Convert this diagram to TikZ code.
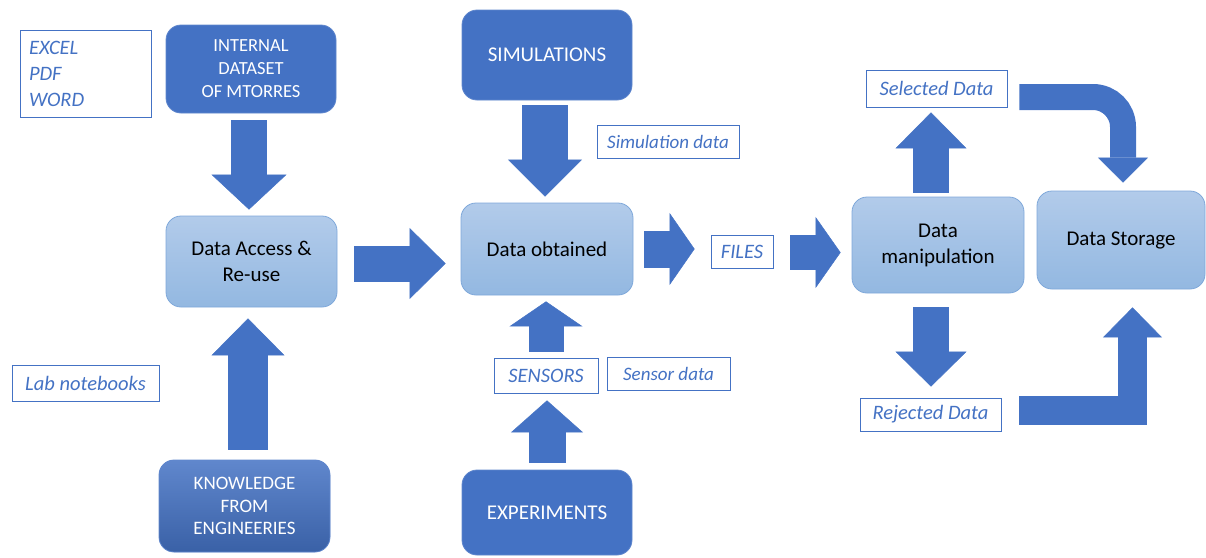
\documentclass[tikz,border=0pt]{standalone}
\usepackage{fontspec}
\setmainfont{Carlito}
\usepackage{xcolor}
\usetikzlibrary{arrows.meta}

\definecolor{officeblue}{HTML}{4472C4}
\definecolor{edgeblue}{HTML}{3B64AE}
\definecolor{lighttop}{HTML}{B2CBEA}
\definecolor{lightbot}{HTML}{93B8E1}
\definecolor{lightedge}{HTML}{7FA8DA}

\tikzset{
  lightbox/.style={rounded corners=15pt, top color=lighttop, bottom color=lightbot, draw=lightedge, line width=0.8pt,
    align=center, font=\fontsize{21}{26}\selectfont, text=black},
  darkbox/.style={rounded corners=15pt, fill=officeblue, draw=officeblue!85!white, line width=0.8pt,
    align=center, text=white},
  tagbox/.style={fill=white, draw=officeblue, line width=0.8pt, text=officeblue,
    font=\fontsize{20.5}{26}\selectfont\itshape},
  blockarrow/.style n args={3}{draw=officeblue, line width=#1, -{Triangle[width=#2,length=#3,line width=0.5pt]}}
}

\begin{document}
\begin{tikzpicture}[x=1pt,y=-1pt]
\useasboundingbox (0,0) rectangle (1206,557);

\node[tagbox, text width=113pt, inner xsep=9pt, minimum height=87pt, align=left] (fmt) at (85.5,73.5) {EXCEL\\PDF\\WORD};
\node[darkbox, minimum width=170pt, minimum height=88pt, font=\fontsize{18.5}{23}\selectfont] (int) at (251,69) {INTERNAL\\DATASET\\OF MTORRES};
\node[lightbox, minimum width=171pt, minimum height=91pt] (acc) at (251.5,261.5) {Data Access \&\\Re-use};
\node[tagbox, minimum width=147pt, minimum height=36pt] (lab) at (85.5,383) {Lab notebooks};
\node[darkbox, top color=officeblue!85!white, bottom color=officeblue!85!black, minimum width=171pt, minimum height=92pt,
  font=\fontsize{19}{22.5}\selectfont] (know) at (244.5,506) {KNOWLEDGE\\FROM\\ENGINEERIES};

\node[darkbox, minimum width=170pt, minimum height=90pt, font=\fontsize{21}{25}\selectfont] (sim) at (547,55) {SIMULATIONS};
\node[tagbox, minimum width=142pt, minimum height=33pt, font=\fontsize{19}{23}\selectfont\itshape] (simd) at (668,141.5) {Simulation data};
\node[lightbox, minimum width=172pt, minimum height=92pt] (obt) at (547,249) {Data obtained};
\node[tagbox, minimum width=104pt, minimum height=35pt] (sens) at (546,375.5) {SENSORS};
\node[tagbox, minimum width=123pt, minimum height=33pt, font=\fontsize{19}{23}\selectfont\itshape] (sensd) at (668.5,374) {Sensor data};
\node[darkbox, minimum width=170pt, minimum height=85pt, font=\fontsize{21}{25}\selectfont] (exp) at (547,512.5) {EXPERIMENTS};

\node[tagbox, minimum width=62pt, minimum height=33pt] (files) at (742,251.5) {FILES};
\node[lightbox, minimum width=172pt, minimum height=96pt] (man) at (938,245) {Data\\manipulation};
\node[tagbox, minimum width=141pt, minimum height=37pt] (sel) at (936.5,88.5) {Selected Data};
\node[tagbox, minimum width=141pt, minimum height=33pt] (rej) at (930.5,414.5) {Rejected Data};
\node[lightbox, minimum width=168pt, minimum height=98pt] (sto) at (1121,240) {Data Storage};

\draw[blockarrow={36pt}{75pt}{35pt}, shorten <=7pt, shorten >=6pt] ([xshift=-2pt]int.south) -- ([xshift=-2pt]int.south |- acc.north);
\draw[blockarrow={40pt}{73pt}{37pt}, shorten <=10pt, shorten >=11pt] ([xshift=3.5pt]know.north) -- ([xshift=3.5pt]know.north |- acc.south);
\draw[blockarrow={36pt}{71pt}{36pt}, shorten <=17pt, shorten >=15pt] ([yshift=-2pt]acc.east) -- ([yshift=-2pt]acc.east -| obt.west);

\draw[blockarrow={46pt}{74pt}{37pt}, shorten <=5pt, shorten >=6pt] ([xshift=-2pt]sim.south) -- ([xshift=-2pt]sim.south |- obt.north);
\draw[blockarrow={35pt}{73pt}{25pt}, shorten <=6pt, shorten >=6pt] (sens.north) -- (sens.north |- obt.south);
\draw[blockarrow={37pt}{72pt}{32pt}, shorten <=7pt, shorten >=7pt] (exp.north) -- (exp.north |- sens.south);

\draw[blockarrow={37pt}{72pt}{25pt}, shorten <=11pt, shorten >=16pt] (obt.east) -- (obt.east -| files.west);
\draw[blockarrow={35pt}{71pt}{25pt}, shorten <=17pt, shorten >=11pt] ([yshift=-1pt]files.east) -- ([yshift=-1pt]files.east -| man.west);

\draw[blockarrow={36pt}{71pt}{36pt}, shorten <=4pt, shorten >=5pt] ([xshift=-7pt]man.north) -- ([xshift=-7pt]man.north |- sel.south);
\draw[blockarrow={36pt}{71pt}{35pt}, shorten <=14pt, shorten >=11pt] ([xshift=-7pt]man.south) -- ([xshift=-7pt]man.south |- rej.north);

\draw[blockarrow={26pt}{50pt}{25pt}, rounded corners=30pt, shorten <=12pt, shorten >=8pt] ([yshift=-8.5pt]sel.east) -| ([xshift=2pt]sto.north);
\draw[blockarrow={29pt}{59pt}{30pt}, shorten <=18pt, shorten >=18pt] ([yshift=4.5pt]rej.east) -| ([xshift=11.5pt]sto.south);
\end{tikzpicture}
\end{document}
